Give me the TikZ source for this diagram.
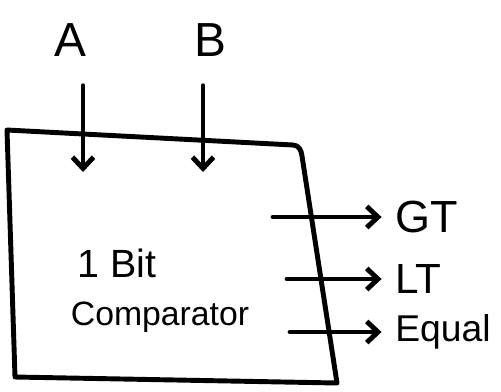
\documentclass[tikz,border=0pt]{standalone}
\usepackage{fontspec}
\setmainfont{Liberation Sans}
\usetikzlibrary{arrows.meta}
\begin{document}
\begin{tikzpicture}[x=0.025cm, y=-0.025cm, >={Straight Barb[length=8pt,width=15pt]},
    line width=3.5pt, line cap=round, line join=round,
    big/.style={font=\fontsize{34}{36}\selectfont, inner sep=2pt},
    mid/.style={font=\fontsize{28}{30}\selectfont, inner sep=2pt}]
    \useasboundingbox (0,0) rectangle (501,391);
    % the box
    \draw (7,130) -- (293,145) to[out=0,in=95] (302,156) -- (337,383) -- (15,377) -- cycle;
    \node[mid] (bit) at (117,263) {1 Bit};
    \node[mid, font=\fontsize{24}{26}\selectfont] (cmp) at (160,317) {Comparator};
    % inputs
    \foreach \n /\x /\ax in {A/70/83,B/210/203}
    {
        \node[big] (\n) at (\x,40) {\n};
        \coordinate (\n end) at (\ax,172);
        \draw [->] (\n.south -| \n end) ++(0,24) -- (\n end);
    }
    % outputs
    \foreach \n /\ntext /\sx /\y /\fs in {gt/GT/273/217/32, lt/LT/287/279/30, eq/Equal/290/332/26.5}
    {
        \coordinate (\n start) at (\sx,\y);
        \node[big, anchor=west, font=\fontsize{\fs}{\fs}\selectfont] (\n) at (390,\y) {\ntext};
        \draw [->, shorten >=6pt] (\n start) -- (\n.west);
    }
\end{tikzpicture}
\end{document}
